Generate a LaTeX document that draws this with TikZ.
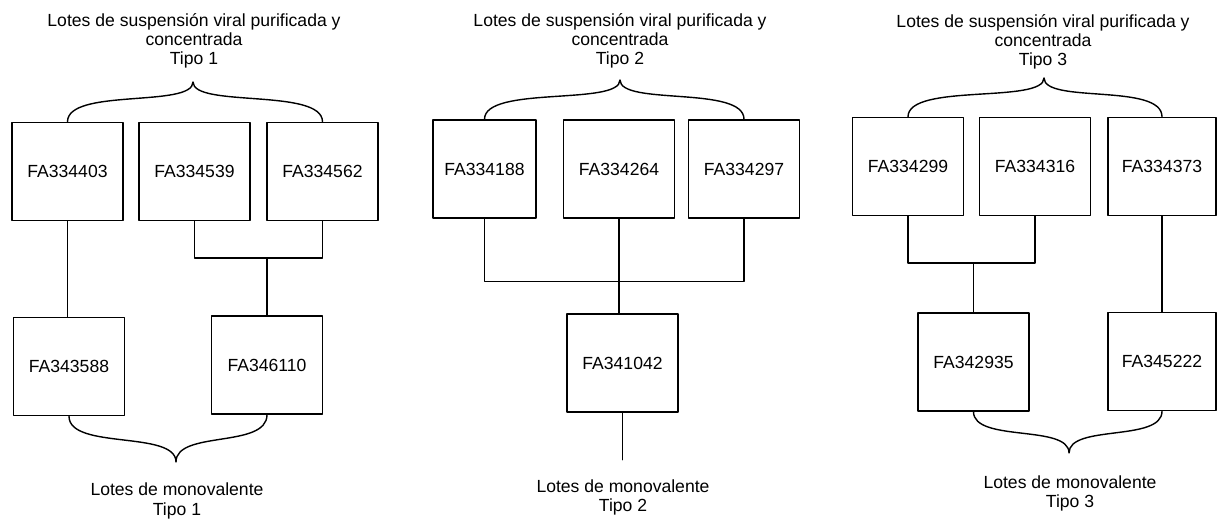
\documentclass[tikz,border=0pt]{standalone}
\usepackage{fontspec}
\setmainfont{Liberation Sans}

\begin{document}
\begin{tikzpicture}[
	line cap=round,
	line join=round,
	every node/.style={font=\fontsize{10}{11}\selectfont},
	lote/.style={draw, line width=0.8pt, minimum width=2.22cm, minimum height=1.96cm, inner sep=2pt, anchor=center},
	rotulo/.style={align=center, anchor=center},
	enlace/.style={line width=0.8pt}
	]
	\useasboundingbox (0,0) rectangle (24.34,10.42);
	
	% Tipo 1
	\node[rotulo] (titulo1) at (3.88,9.60) {Lotes de suspensión viral purificada y\\concentrada\\Tipo 1};
	\node[lote] (a1) at (1.35,6.99) {FA334403};
	\node[lote] (b1) at (3.89,6.99) {FA334539};
	\node[lote] (c1) at (6.45,6.99) {FA334562};
	\node[lote] (d1) at (1.38,3.09) {FA343588};
	\node[lote] (e1) at (5.34,3.12) {FA346110};
	\coordinate (pico1) at (3.86,8.78);
	\coordinate (valle1) at (3.52,1.18);
	\node[rotulo] (monov1) at (3.54,0.40) {Lotes de monovalente\\Tipo 1};
	
	\draw[enlace] (a1.north) .. controls +(0,0.68) and +(0,-0.52) .. (pico1)
		.. controls +(0,-0.52) and +(0,0.68) .. (c1.north);
	\draw[enlace] (a1.south) -- (a1.south |- d1.north);
	\draw[enlace] (b1.south) -- ++(0,-0.74) coordinate (union1) -| (c1.south);
	\draw[enlace] (e1.north) -- (e1.north |- union1);
	\draw[enlace] (d1.south) .. controls +(0,-0.68) and +(0,0.64) .. (valle1)
		.. controls +(0,0.64) and +(0,-0.68) .. (e1.south);
	
	% Tipo 2
	\node[rotulo] (titulo2) at (12.40,9.60) {Lotes de suspensión viral purificada y\\concentrada\\Tipo 2};
	\node[lote, minimum width=2.06cm] (f2) at (9.69,7.04) {FA334188};
	\node[lote] (g2) at (12.38,7.04) {FA334264};
	\node[lote] (h2) at (14.88,7.04) {FA334297};
	\node[lote] (i2) at (12.45,3.16) {FA341042};
	\coordinate (pico2) at (12.40,8.82);
	\node[rotulo] (monov2) at (12.46,0.47) {Lotes de monovalente\\Tipo 2};
	
	\draw[enlace] (f2.north) .. controls +(0,0.68) and +(0,-0.52) .. (pico2)
		.. controls +(0,-0.52) and +(0,0.68) .. (h2.north);
	\draw[enlace] (f2.south) -- ++(0,-1.26) coordinate (union2) -| (h2.south);
	\draw[enlace] (g2.south) -- (g2.south |- i2.north);
	\draw[enlace] (i2.south) -- ++(0,-0.94) coordinate (fin2);
	
	% Tipo 3
	\node[rotulo] (titulo3) at (20.86,9.58) {Lotes de suspensión viral purificada y\\concentrada\\Tipo 3};
	\node[lote] (j3) at (18.16,7.09) {FA334299};
	\node[lote] (k3) at (20.70,7.09) {FA334316};
	\node[lote, minimum width=2.16cm] (l3) at (23.24,7.09) {FA334373};
	\node[lote] (m3) at (19.47,3.18) {FA342935};
	\node[lote, minimum width=2.16cm] (n3) at (23.24,3.19) {FA345222};
	\coordinate (pico3) at (20.88,8.86);
	\coordinate (valle3) at (21.38,1.36);
	\node[rotulo] (monov3) at (21.40,0.55) {Lotes de monovalente\\Tipo 3};
	
	\draw[enlace] (j3.north) .. controls +(0,0.68) and +(0,-0.52) .. (pico3)
		.. controls +(0,-0.52) and +(0,0.68) .. (l3.north);
	\draw[enlace] (j3.south) -- ++(0,-0.94) coordinate (union3) -| (k3.south);
	\draw[enlace] (m3.north) -- (m3.north |- union3);
	\draw[enlace] (l3.south) -- (l3.south |- n3.north);
	\draw[enlace] (m3.south) .. controls +(0,-0.62) and +(0,0.58) .. (valle3)
		.. controls +(0,0.58) and +(0,-0.62) .. (n3.south);
\end{tikzpicture}
\end{document}
